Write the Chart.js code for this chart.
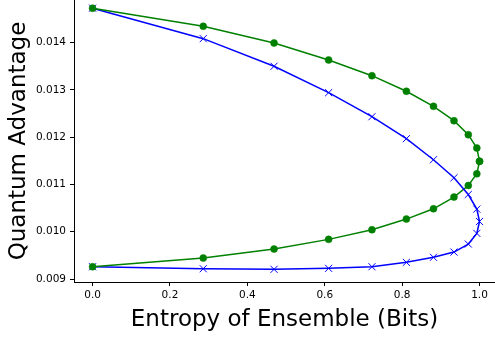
<!DOCTYPE html>
<html>
<head>
<meta charset="utf-8">
<script src="https://cdn.jsdelivr.net/npm/chart.js@4"></script>
<style>
  html, body { margin: 0; padding: 0; background: #fff; }
  #wrap { width: 495px; height: 338px; }
</style>
</head>
<body>
<div id="wrap"><canvas id="c" width="495" height="338"></canvas></div>
<script>
// entropy values (x), same for both branches
const entropyUpper = [0, 0.286, 0.469, 0.61, 0.722, 0.811, 0.881, 0.934, 0.971, 0.993, 1.0];
const entropyLower = [1.0, 0.993, 0.971, 0.934, 0.881, 0.811, 0.722, 0.61, 0.469, 0.286, 0];

// green curve (circles)
const greenUpper = [0.01473, 0.014347, 0.013994, 0.013634, 0.013302, 0.012972, 0.012654, 0.01235, 0.012053, 0.011772, 0.01149];
const greenLower = [0.01149, 0.011226, 0.010979, 0.010733, 0.010486, 0.010268, 0.010042, 0.009839, 0.009634, 0.009444, 0.00926];

// blue curve (x markers)
const blueUpper = [0.01473, 0.014085, 0.013501, 0.012942, 0.012434, 0.011969, 0.011524, 0.011142, 0.010788, 0.010479, 0.010217];
const blueLower = [0.010217, 0.009966, 0.00974, 0.00957, 0.009459, 0.009353, 0.00926, 0.009226, 0.009205, 0.009218, 0.00926];

const xTicks = [0, 0.2, 0.4, 0.6, 0.8, 1.0];
const yTicks = [0.009, 0.010, 0.011, 0.012, 0.013, 0.014];

const FONT = "'DejaVu Sans', sans-serif";
const GREEN = '#008000';
const BLUE = '#0000ff';

const pts = (xs, ys) => xs.map((x, i) => ({ x, y: ys[i] }));

function greenSet(data) {
  return {
    data,
    showLine: true,
    clip: false,
    borderColor: GREEN,
    backgroundColor: GREEN,
    borderWidth: 1.5,
    pointStyle: 'circle',
    pointRadius: 3.5,
    pointBorderWidth: 0.5,
    pointBorderColor: GREEN,
    pointBackgroundColor: GREEN
  };
}

function blueSet(data) {
  return {
    data,
    showLine: true,
    clip: false,
    borderColor: BLUE,
    backgroundColor: BLUE,
    borderWidth: 1.5,
    pointStyle: 'crossRot',
    pointRadius: 5,
    pointBorderWidth: 1,
    pointBorderColor: BLUE
  };
}

// first dataset is drawn on top
new Chart(document.getElementById('c'), {
  type: 'scatter',
  data: {
    datasets: [
      greenSet(pts(entropyUpper, greenUpper)),
      blueSet(pts(entropyUpper, blueUpper)),
      greenSet(pts(entropyLower, greenLower)),
      blueSet(pts(entropyLower, blueLower))
    ]
  },
  options: {
    responsive: false,
    animation: false,
    layout: { padding: 0, autoPadding: false },
    plugins: { legend: { display: false }, tooltip: { enabled: false } },
    scales: {
      x: {
        type: 'linear',
        min: -0.048,
        max: 1.04,
        afterBuildTicks: s => { s.ticks = xTicks.map(v => ({ value: v })); },
        afterFit: s => { s.height = 56; s.paddingLeft = 0; s.paddingRight = 0; },
        ticks: {
          color: '#000',
          font: { family: FONT, size: 10.5 },
          padding: 3,
          maxRotation: 0,
          callback: v => Number(v).toFixed(1)
        },
        grid: { drawOnChartArea: false, tickLength: 4, tickColor: '#000', tickWidth: 1 },
        border: { color: '#000', width: 1 },
        title: {
          display: true,
          text: 'Entropy of Ensemble (Bits)',
          color: '#000',
          font: { family: FONT, size: 23 },
          padding: { top: 0, bottom: 4 }
        }
      },
      y: {
        type: 'linear',
        min: 0.008937,
        max: 0.014903,
        afterBuildTicks: s => { s.ticks = yTicks.map(v => ({ value: v })); },
        afterFit: s => { s.width = 74; s.paddingTop = 0; s.paddingBottom = 0; },
        ticks: {
          color: '#000',
          font: { family: FONT, size: 10.5 },
          padding: 4,
          callback: v => Number(v).toFixed(3)
        },
        grid: { drawOnChartArea: false, tickLength: 4, tickColor: '#000', tickWidth: 1 },
        border: { color: '#000', width: 1 },
        title: {
          display: true,
          text: 'Quantum Advantage',
          color: '#000',
          font: { family: FONT, size: 23 },
          padding: { top: 5, bottom: 0 }
        }
      }
    }
  }
});
</script>
</body>
</html>
